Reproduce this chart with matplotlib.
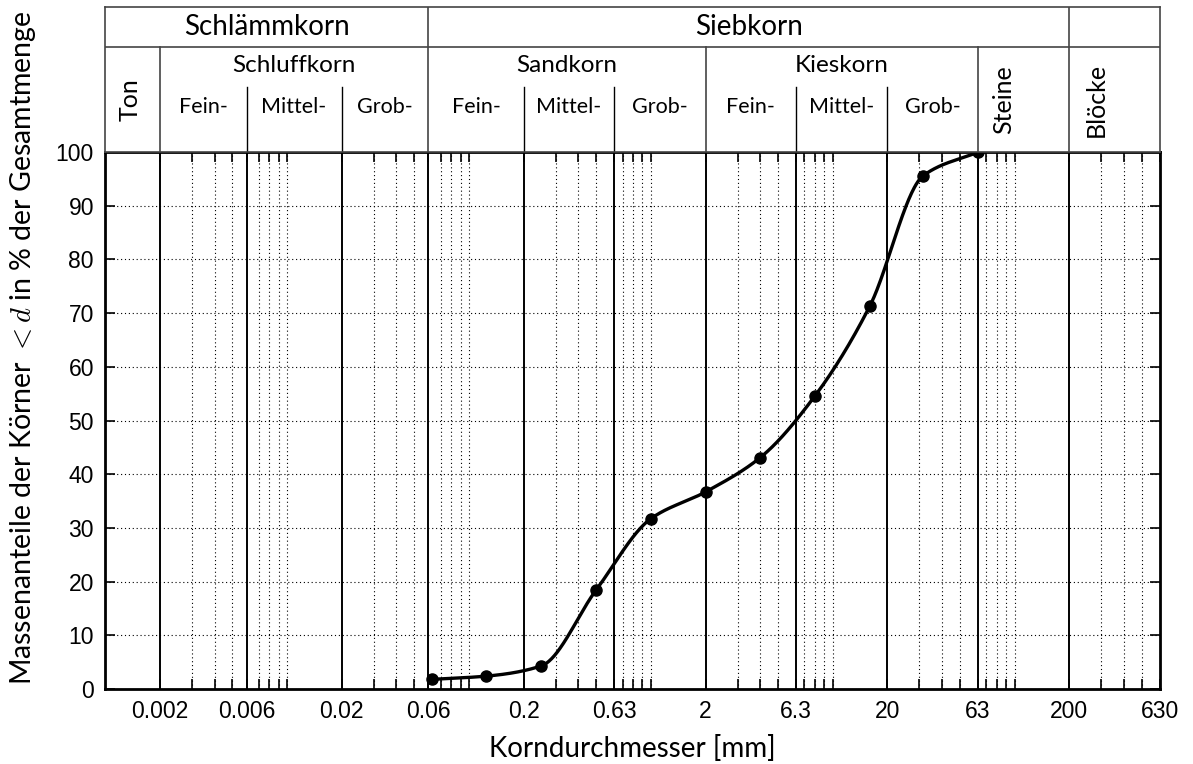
import numpy as np
import matplotlib
matplotlib.use('Agg')
import matplotlib.pyplot as plt
from matplotlib.ticker import FixedLocator, NullFormatter

plt.rcParams['font.family'] = ['Liberation Sans', 'DejaVu Sans']
plt.rcParams['mathtext.fontset'] = 'cm'

# Siebanalyse: Korngroesse [mm] und Siebdurchgang [%]
korn_mm = [0.063, 0.125, 0.25, 0.5, 1.0, 2.0, 4.0, 8.0, 16.0, 31.5, 63.0]
durchgang = [1.8, 2.4, 4.3, 18.4, 31.7, 36.7, 43.1, 54.6, 71.3, 95.6, 100.0]

# Grenzen der Kornfraktionen und Achsbeschriftung
grenzen = [0.002, 0.006, 0.02, 0.06, 0.2, 0.63, 2, 6.3, 20, 63, 200]
xticks = [0.002, 0.006, 0.02, 0.06, 0.2, 0.63, 2, 6.3, 20, 63, 200, 630]
xticklabels = ['0.002', '0.006', '0.02', '0.06', '0.2', '0.63', '2', '6.3', '20', '63', '200', '630']
yticks = [0, 10, 20, 30, 40, 50, 60, 70, 80, 90, 100]

# Kopftabelle
gruppen = ['Schlämmkorn', 'Siebkorn']
gruppen_grenzen = [(0.001, 0.06), (0.06, 200)]
arten = ['Schluffkorn', 'Sandkorn', 'Kieskorn']
arten_grenzen = [(0.002, 0.06), (0.06, 2), (2, 63)]
stufen = ['Fein-', 'Mittel-', 'Grob-'] * 3
stufen_grenzen = [(0.002, 0.006), (0.006, 0.02), (0.02, 0.06),
                  (0.06, 0.2), (0.2, 0.63), (0.63, 2),
                  (2, 6.3), (6.3, 20), (20, 63)]
senkrecht = ['Ton', 'Steine', 'Blöcke']
senkrecht_x = [0.00137, 87, 280]

xmin, xmax = 0.001, 630
label_font = ['Lato', 'DejaVu Sans']


def monoton_spline(x, y, xn):
    # monotone kubische Interpolation (Fritsch-Carlson)
    x = np.asarray(x, float)
    y = np.asarray(y, float)
    h = np.diff(x)
    d = np.diff(y) / h
    m = np.zeros_like(y)
    for k in range(1, len(x) - 1):
        if d[k - 1] * d[k] > 0:
            w1 = 2 * h[k] + h[k - 1]
            w2 = h[k] + 2 * h[k - 1]
            m[k] = (w1 + w2) / (w1 / d[k - 1] + w2 / d[k])
    m[0] = d[0]
    m[-1] = d[-1]
    idx = np.clip(np.searchsorted(x, xn) - 1, 0, len(x) - 2)
    t = (xn - x[idx]) / h[idx]
    h00 = 2 * t**3 - 3 * t**2 + 1
    h10 = t**3 - 2 * t**2 + t
    h01 = -2 * t**3 + 3 * t**2
    h11 = t**3 - t**2
    return h00 * y[idx] + h10 * h[idx] * m[idx] + h01 * y[idx + 1] + h11 * h[idx] * m[idx + 1]


fig = plt.figure(figsize=(11.93, 7.64), dpi=100)
W, H = 1193, 764
left, right, top, bottom = 105 / W, 1160 / W, 1 - 152 / H, 1 - 689 / H
ax = fig.add_axes([left, bottom, right - left, top - bottom])
ax.set_xscale('log')
ax.set_xlim(xmin, xmax)
ax.set_ylim(0, 100)

# Gitter
minor = [f * 10.0**e for e in range(-3, 3) for f in (1, 3, 4, 5, 7, 8, 9)]
minor = [v for v in minor if xmin * 1.01 < v < xmax * 0.99]
ax.xaxis.set_minor_locator(FixedLocator(minor))
ax.xaxis.set_minor_formatter(NullFormatter())
ax.set_xticks(xticks)
ax.set_xticklabels(xticklabels)
ax.set_yticks(yticks)
ax.grid(which='minor', axis='x', linestyle=(0, (1, 2.5)), color='black', lw=0.8)
ax.grid(which='major', axis='y', linestyle=(0, (1, 2.5)), color='black', lw=0.8)
for g in grenzen:
    ax.axvline(g, color='black', lw=1.4)
ax.tick_params(which='both', direction='in', top=True, right=True, width=1.2, labelsize=16.5)
ax.tick_params(which='major', length=7, pad=8)
ax.tick_params(which='minor', length=7)
for s in ax.spines.values():
    s.set_linewidth(2)

# Koernungslinie
xs = np.logspace(np.log10(korn_mm[0]), np.log10(korn_mm[-1]), 600)
ys = monoton_spline(np.log10(korn_mm), durchgang, np.log10(xs))
ax.plot(xs, ys, color='black', lw=2.4, zorder=5)
ax.plot(korn_mm, durchgang, 'o', color='black', ms=8, zorder=6, clip_on=False)

ax.set_xlabel('Korndurchmesser [mm]', fontsize=20, family=label_font)
ax.set_ylabel('Massenanteile der Körner $<d$ in % der Gesamtmenge', fontsize=20.5,
              family=label_font)
ax.xaxis.set_label_coords(0.5, (689 - 735) / 537)
ax.yaxis.set_label_coords((38 - 105) / 1055, (689 - 348) / 537)

# Kopftabelle ueber dem Diagramm
hax = fig.add_axes([left, top, right - left, (152 - 7) / H])
hax.set_ylim(0, 1)
hax.set_xscale('log')
hax.set_xlim(xmin, xmax)
hax.tick_params(which='both', length=0, labelbottom=False, labelleft=False)
hax.xaxis.set_minor_formatter(NullFormatter())
for s in hax.spines.values():
    s.set_color('#444444')
    s.set_linewidth(1.2)
y_row1 = (152 - 47) / 145
y_row3 = (152 - 87) / 145
lc = '#444444'
hax.axhline(y_row1, color=lc, lw=1.2)
for g in (0.06, 200):
    hax.plot([g, g], [0, 1], color=lc, lw=1.2)
for g in (0.002, 2, 63):
    hax.plot([g, g], [0, y_row1], color=lc, lw=1.2)
for g in (0.006, 0.02, 0.2, 0.63, 6.3, 20):
    hax.plot([g, g], [0, y_row3], color='black', lw=1.0)

for name, (a, b) in zip(gruppen, gruppen_grenzen):
    hax.text(np.sqrt(a * b), (152 - 27) / 145, name, ha='center', va='center',
             fontsize=20, family=label_font)
for name, (a, b) in zip(arten, arten_grenzen):
    hax.text(np.sqrt(a * b), (152 - 66) / 145, name, ha='center', va='center',
             fontsize=17.5, family=label_font)
for name, (a, b) in zip(stufen, stufen_grenzen):
    hax.text(np.sqrt(a * b), (152 - 107) / 145, name, ha='center', va='center',
             fontsize=15.5, family=label_font)
for name, xp in zip(senkrecht, senkrecht_x):
    hax.text(xp, (152 - 100) / 145, name, ha='center', va='center', rotation=90,
             fontsize=18, family=label_font)

fig.savefig('out.png', dpi=100)
